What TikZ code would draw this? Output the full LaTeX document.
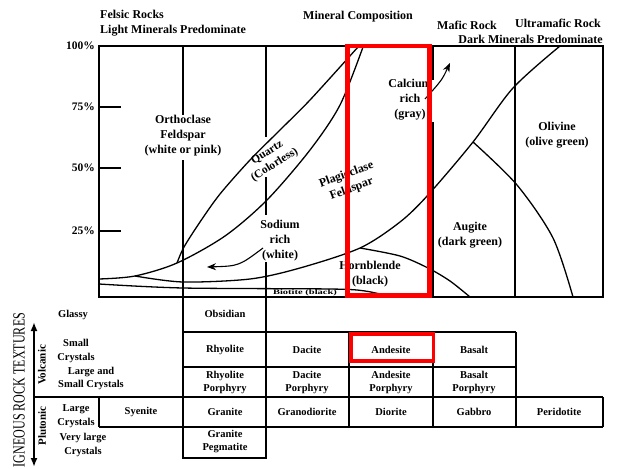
\documentclass[tikz,border=0pt]{standalone}
\usepackage{fontspec}
\setmainfont{Liberation Serif}
\usetikzlibrary{arrows.meta}

\begin{document}
\begin{tikzpicture}[x=1pt, y=-1pt,
    head/.style={font=\fontsize{12}{15}\selectfont\bfseries, inner sep=0pt},
    lab/.style={font=\fontsize{12}{15}\selectfont\bfseries, align=center, inner sep=0pt},
    cell/.style={font=\fontsize{10.5}{13}\selectfont\bfseries, align=center, inner sep=0pt},
    side/.style={font=\fontsize{10.5}{13.5}\selectfont\bfseries, align=center, inner sep=0pt},
    pct/.style={font=\fontsize{11.5}{13}\selectfont\bfseries, anchor=east, inner sep=0pt},
    bound/.style={line width=1.3pt},
    gridline/.style={line width=1.7pt},
    redbox/.style={draw=red, line width=4.5pt}]
		
		\useasboundingbox (0,0) rectangle (620,468);
		\fill[white] (0,0) rectangle (620,468);
		
		% Headings over the chart
		\node[head, anchor=west, align=left] (felsic) at (100,23) {Felsic Rocks\\Light Minerals Predominate};
		\node[head] (mincomp) at (358,17) {Mineral Composition};
		\node[head] (mafic) at (467,25) {Mafic Rock};
		\node[head] (ultra) at (558,23) {Ultramafic Rock};
		\node[head, anchor=east] (dark) at (603,39) {Dark Minerals Predominate};
		
		% Chart frame and percent ticks
		\draw[bound] (99,46) rectangle (603,297);
		\foreach \yy/\txt in {46/100, 107/75, 168/50, 231/25}{
			\draw[bound] (99,\yy) -- (121,\yy);
			\node[pct] (p\txt) at (95,\yy) {\txt\%};
		}
		
		% Vertical dividers in the chart (broken where text sits)
		\draw[bound] (183,46) -- (183,115) (183,160) -- (183,297);
		\draw[bound] (266,46) -- (266,137) (266,177) -- (266,215) (266,262) -- (266,297);
		\draw[bound] (433,46) -- (433,80) (433,122) -- (433,297);
		\draw[bound] (515,46) -- (515,297);
		
		% Quartz lens
		\draw[bound] plot[smooth] coordinates {(99,279) (135,276) (177,263) (225,236) (267,200) (310,150) (340,105) (363,47)};
		\draw[bound] plot[smooth] coordinates {(177,263) (184,247) (200,222) (220,194) (250,160) (280,130) (310,100) (358,47)};
		% Plagioclase lower boundary
		\draw[bound] plot[smooth] coordinates {(135,276) (183,282) (250,279) (300,268) (360,248) (400,222) (428,195) (473,142) (513,88) (560,46)};
		% Hornblende, olivine and biotite
		\draw[bound] plot[smooth] coordinates {(360,248) (400,256) (428,268) (450,281) (470,297)};
		\draw[bound] plot[smooth] coordinates {(473,142) (517,185) (553,238) (573,297)};
		\draw[bound] plot[smooth] coordinates {(99,284) (183,288) (330,289) (365,291) (392,297)};
		
		% Mineral labels
		\node[lab] (ortho) at (183,136) {Orthoclase\\Feldspar\\(white or pink)};
		\node[lab, rotate=32, font=\fontsize{11.5}{14}\selectfont\bfseries] (quartz) at (271,159) {Quartz\\(Colorless)};
		\node[lab, rotate=20] (plag) at (349,182) {Plagioclase\\Feldspar};
		\node[lab] (calcium) at (410,100) {Calcium\\rich\\(gray)};
		\node[lab] (sodium) at (280,241) {Sodium\\rich\\(white)};
		\node[lab] (hornb) at (370,274.5) {Hornblende\\(black)};
		\node[inner sep=0pt] (biotite) at (305,293) {\scalebox{1.5}[1]{\fontsize{7}{7}\selectfont\bfseries Biotite (black)}};
		\node[lab] (augite) at (470,235) {Augite\\(dark green)};
		\node[lab] (olivine) at (557,135.5) {Olivine\\(olive green)};
		
		% Trend arrows
		\coordinate (natip) at (207,267);
		\coordinate (catip) at (450,63);
		\draw[line width=1.1pt, -{Stealth[length=9pt,width=7pt]}] (263,248) .. controls (239,266) .. (natip);
		\draw[line width=1.1pt, -{Stealth[length=9pt,width=7pt]}] (425,99) .. controls (442,80) .. (catip);
		
		% Rock table
		\draw[gridline] (183,297) -- (183,458) -- (266,458) -- (266,297);
		\draw[gridline] (183,332) -- (516,332);
		\draw[gridline] (183,367) -- (516,367);
		\draw[gridline] (33,397) -- (603,397);
		\draw[gridline] (99,427) -- (603,427);
		\draw[gridline] (99,397) -- (99,427);
		\foreach \xx in {349,433,516}
			\draw[gridline] (\xx,332) -- (\xx,427);
		\draw[gridline] (603,397) -- (603,427);
		
		\node[cell] (obsidian) at (225,314) {Obsidian};
		\node[cell] (rhyolite) at (225,350) {Rhyolite};
		\node[cell] (dacite) at (307,350) {Dacite};
		\node[cell] (andesite) at (391,350) {Andesite};
		\node[cell] (basalt) at (474,350) {Basalt};
		\node[cell] (rhyporph) at (225,382) {Rhyolite\\Porphyry};
		\node[cell] (dacporph) at (307,382) {Dacite\\Porphyry};
		\node[cell] (andporph) at (391,382) {Andesite\\Porphyry};
		\node[cell] (basporph) at (474,382) {Basalt\\Porphyry};
		\node[cell] (syenite) at (141,412) {Syenite};
		\node[cell] (granite) at (225,412) {Granite};
		\node[cell] (granodio) at (307,412) {Granodiorite};
		\node[cell] (diorite) at (391,412) {Diorite};
		\node[cell] (gabbro) at (474,412) {Gabbro};
		\node[cell] (perid) at (559,412) {Peridotite};
		\node[cell] (pegma) at (225,442) {Granite\\Pegmatite};
		
		% Texture labels on the left
		\node[side] (glassy) at (73,315) {Glassy};
		\node[side] (small) at (76,351) {Small\\Crystals};
		\node[side] (lgsmall) at (91,378.5) {Large and\\Small Crystals};
		\node[side] (large) at (76,416) {Large\\Crystals};
		\node[side] (vlarge) at (83,445) {Very large\\Crystals};
		\node[side, rotate=90, font=\fontsize{11}{12}\selectfont\bfseries] (volc) at (42,365) {Volcanic};
		\node[side, rotate=90, font=\fontsize{11}{12}\selectfont\bfseries] (pluto) at (42,426) {Plutonic};
		\node[rotate=90, inner sep=0pt] (texture) at (19,390) {\scalebox{0.71}[1]{\fontsize{17}{17}\selectfont IGNEOUS ROCK TEXTURES}};
		\coordinate (uptip) at (34,322);
		\coordinate (downtip) at (34,467);
		\draw[line width=1.8pt, {Latex[length=9pt,width=7pt]}-{Latex[length=9pt,width=7pt]}] (uptip) -- (downtip);
		
		% Red highlight boxes
		\draw[redbox] (347.5,46) rectangle (429.5,295.5);
		\draw[redbox, line width=3.8pt] (351,334) rectangle (433.5,361);
	\end{tikzpicture}
\end{document}
